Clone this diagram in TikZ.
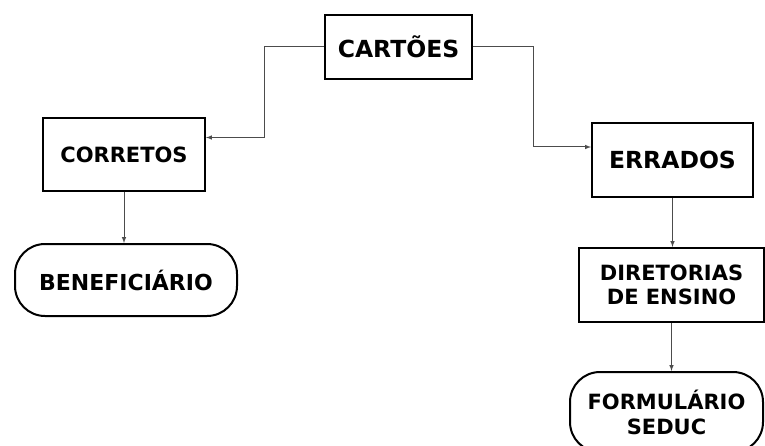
\documentclass[tikz,border=0pt]{standalone}
\usepackage{fontspec}
\setmainfont{DejaVu Sans}
\usetikzlibrary{arrows}
\usetikzlibrary{calc}
\usetikzlibrary{positioning}

\begin{document}
\begin{tikzpicture}[
  x=1pt, y=1pt,
  > = latex,
  box/.style = {draw, line width=2pt, inner sep=0pt, align=center, font=\bfseries\fontsize{21}{24}\selectfont},
  term/.style = {box, rounded corners=30pt},
  link/.style = {->, line width=1pt, draw=black!70}
  ]
	\useasboundingbox (0,0) rectangle (765,445);

	\node[box, minimum width=147pt, minimum height=64pt, font=\bfseries\fontsize{23.5}{26}\selectfont] (cartoes) at (398.5,398) {CARTÕES};

	\node[box, minimum width=162pt, minimum height=73pt] (corretos) at (124,290.5) {CORRETOS};
	\node[term, minimum width=222pt, minimum height=72pt, font=\bfseries\fontsize{22}{24}\selectfont] (benef) at (126,165) {BENEFICIÁRIO};

	\node[box, minimum width=161pt, minimum height=74pt, font=\bfseries\fontsize{23.5}{26}\selectfont] (errados) at (672.5,285) {ERRADOS};
	\node[box, minimum width=185pt, minimum height=74pt] (diret) at (671.5,160) {DIRETORIAS\\DE ENSINO};
	\node[term, minimum width=193pt, minimum height=80pt, font=\bfseries\fontsize{21}{25}\selectfont] (form) at (666.5,33) {FORMULÁRIO\\SEDUC};

	\draw[link] (cartoes.west) -- ++(-60,0) |- ([yshift=17pt]corretos.east);
	\draw[link] (cartoes.east) -- ++(60,0) |- ([yshift=13pt]errados.west);

	\draw[link] (corretos.south) -- (corretos.south |- benef.north);
	\draw[link] (errados.south) -- (errados.south |- diret.north);
	\draw[link] (diret.south) -- (diret.south |- form.north);

\end{tikzpicture}
\end{document}
